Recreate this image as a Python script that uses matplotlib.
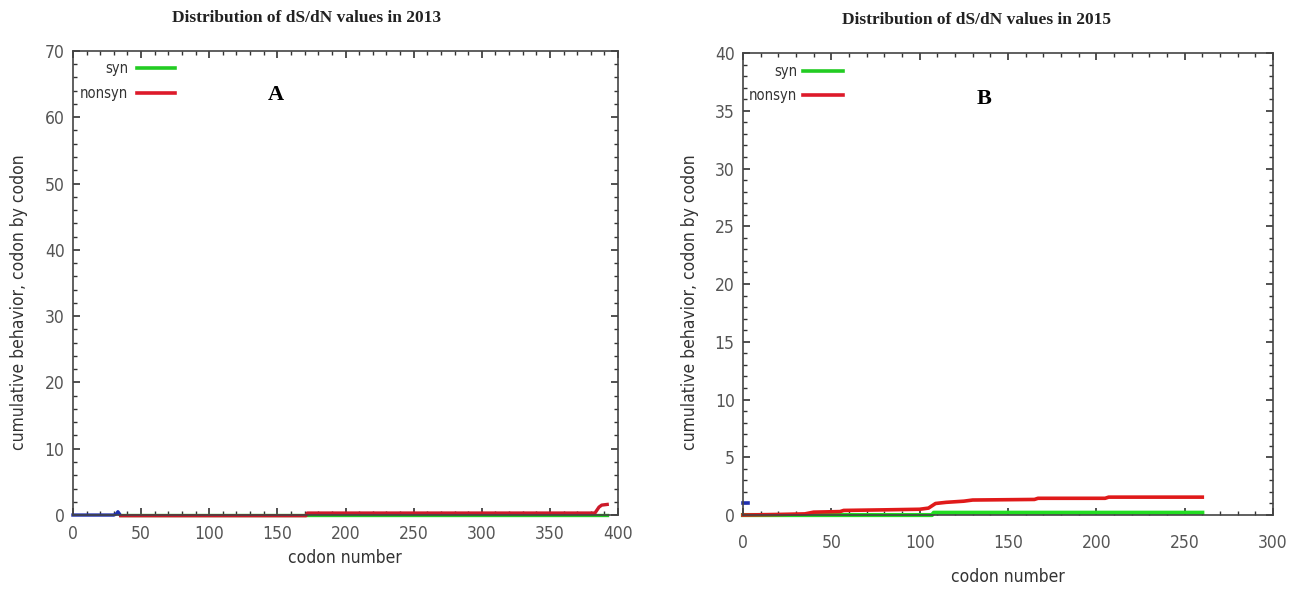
import numpy as np
import matplotlib
matplotlib.use("Agg")
import matplotlib.pyplot as plt
from matplotlib.ticker import MultipleLocator

# panel A (2013)
syn13_x = [35, 120, 250, 392]
syn13_y = [0.0, 0.0, 0.0, 0.0]
nonsyn13_x = [35, 100, 171, 172, 250, 383, 386, 388, 392]
nonsyn13_y = [-0.1, -0.1, -0.1, 0.3, 0.3, 0.3, 1.2, 1.5, 1.6]
other13_x = [0, 10, 20, 30, 32, 33, 34]
other13_y = [0.0, 0.0, 0.0, 0.0, 0.2, 0.5, 0.2]

# panel B (2015)
syn15_x = [0, 50, 107, 108, 150, 200, 260]
syn15_y = [0.0, 0.0, 0.0, 0.2, 0.2, 0.2, 0.2]
nonsyn15_x = [0, 20, 35, 40, 55, 57, 80, 100, 105, 107, 109, 115, 125, 130, 165, 167, 205, 207, 260]
nonsyn15_y = [0.0, 0.05, 0.1, 0.25, 0.3, 0.4, 0.45, 0.5, 0.6, 0.8, 1.0, 1.1, 1.2, 1.3, 1.35, 1.45, 1.45, 1.55, 1.55]
other15_x = [0, 3]
other15_y = [1.0, 1.0]

narrow = dict(family='DejaVu Sans', fontstretch='condensed')
grey = '#555555'

fig = plt.figure(figsize=(12.98, 5.92), dpi=100)
axA = fig.add_axes([0.0562, 0.130, 0.420, 0.784])
axB = fig.add_axes([0.5724, 0.130, 0.4083, 0.7804])


def style(ax, xmax, ymax, xmaj, ymaj, ymin_step, xpad):
    ax.set_xlim(0, xmax)
    ax.set_ylim(0, ymax)
    ax.xaxis.set_major_locator(MultipleLocator(xmaj))
    ax.xaxis.set_minor_locator(MultipleLocator(xmaj / 5))
    ax.yaxis.set_major_locator(MultipleLocator(ymaj))
    ax.yaxis.set_minor_locator(MultipleLocator(ymin_step))
    ax.tick_params(which='both', direction='in', top=True, right=True,
                   color='#333333', labelcolor=grey)
    ax.tick_params(which='major', length=5, width=1.2, pad=6)
    ax.tick_params(axis='x', which='major', pad=xpad)
    ax.tick_params(which='minor', length=3, width=1)
    for sp in ax.spines.values():
        sp.set_color('#444444')
        sp.set_linewidth(1.2)
    for lab in ax.get_xticklabels() + ax.get_yticklabels():
        lab.set_family('DejaVu Sans')
        lab.set_stretch('condensed')
        lab.set_fontsize(12.5)


style(axA, 400, 70, 50, 10, 2, 7)
style(axB, 300, 40, 50, 5, 1, 14)

# panel A lines
axA.plot(syn13_x, syn13_y, color='#22cc22', lw=2.4, clip_on=False)
axA.plot(nonsyn13_x, nonsyn13_y, color='#cc1a2a', lw=2.4, clip_on=False)
axA.plot(other13_x, other13_y, color='#1f2fb0', lw=2.4, clip_on=False)

# panel B lines
axB.plot(syn15_x, syn15_y, color='#22dd22', lw=3, clip_on=False)
axB.plot(nonsyn15_x, nonsyn15_y, color='#e01a1a', lw=2.6, clip_on=False)
axB.plot(other15_x, other15_y, color='#1f2fb0', lw=2.6, clip_on=False)

# legends drawn as in the original plot
for ax, x0, x1, xt, ys in [(axA, 0.117, 0.187, 0.101, (0.963, 0.909)),
                           (axB, 0.113, 0.189, 0.102, (0.961, 0.909))]:
    for lab, col, yy in [('syn', '#22cc22', ys[0]), ('nonsyn', '#dd1a2a', ys[1])]:
        ax.plot([x0, x1], [yy, yy], color=col, lw=2.6, transform=ax.transAxes)
        ax.text(xt, yy, lab, transform=ax.transAxes, ha='right', va='center',
                fontsize=10.5, color='#333333', **narrow)

axA.text(0.372, 0.905, 'A', transform=axA.transAxes, ha='center', va='center',
         family='Liberation Serif', fontweight='bold', fontsize=16)
axB.text(0.455, 0.900, 'B', transform=axB.transAxes, ha='center', va='center',
         family='Liberation Serif', fontweight='bold', fontsize=16)

fig.text(0.236, 0.970, 'Distribution of dS/dN values in 2013', ha='center',
         va='center', family='Liberation Serif', fontweight='bold',
         fontsize=12.5, color='#222222')
fig.text(0.752, 0.966, 'Distribution of dS/dN values in 2015', ha='center',
         va='center', family='Liberation Serif', fontweight='bold',
         fontsize=12.5, color='#222222')

fig.text(0.0145, 0.49, 'cumulative behavior, codon by codon', rotation=90,
         ha='center', va='center', fontsize=12.5, color='#333333', **narrow)
fig.text(0.5315, 0.49, 'cumulative behavior, codon by codon', rotation=90,
         ha='center', va='center', fontsize=12.5, color='#333333', **narrow)
fig.text(0.266, 0.058, 'codon number', ha='center', va='center',
         fontsize=12.5, color='#333333', **narrow)
fig.text(0.7765, 0.025, 'codon number', ha='center', va='center',
         fontsize=12.5, color='#333333', **narrow)

fig.savefig('out.png', dpi=100)
